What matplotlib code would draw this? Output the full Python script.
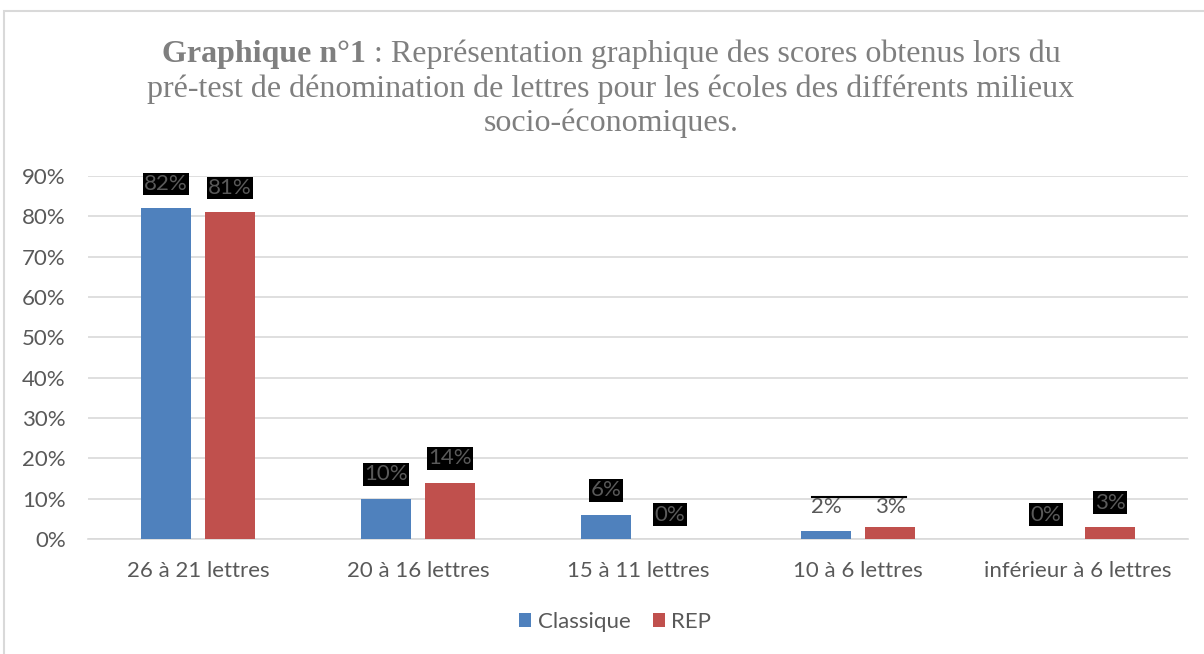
import matplotlib
matplotlib.use('Agg')
import matplotlib.pyplot as plt
from matplotlib.patches import Rectangle
import numpy as np

categories = ['26 à 21 lettres', '20 à 16 lettres', '15 à 11 lettres',
              '10 à 6 lettres', 'inférieur à 6 lettres']
classique = [0.82, 0.10, 0.06, 0.02, 0.00]
rep = [0.81, 0.14, 0.00, 0.03, 0.03]
yticks = [0, 0.1, 0.2, 0.3, 0.4, 0.5, 0.6, 0.7, 0.8, 0.9]

BLUE = '#4f81bd'
RED = '#c0504d'
GREY = '#595959'
FONT = 'Lato'

fig = plt.figure(figsize=(12.04, 6.54), dpi=100)
fig.patch.set_facecolor('white')

# chart border
fig.patches.append(Rectangle((4 / 1204, -0.05), 1.2, 1 - 11 / 654 + 0.05,
                             transform=fig.transFigure, fill=False,
                             edgecolor='#d9d9d9', linewidth=1.5))

ax = fig.add_axes([88 / 1204, 1 - 539 / 654, 1100 / 1204, (539 - 176) / 654])
x = np.arange(len(categories))
off = 0.145
w = 0.227
ax.bar(x - off, classique, w, color=BLUE, label='Classique', zorder=3)
ax.bar(x + off, rep, w, color=RED, label='REP', zorder=3)

ax.set_xlim(-0.5, len(categories) - 0.5)
ax.set_ylim(0, 0.9)
ax.set_yticks(yticks)
ax.set_yticklabels([f'{int(round(t * 100))}%' for t in yticks])
ax.set_xticks(x)
ax.set_xticklabels(categories)
ax.tick_params(length=0, labelsize=16, labelcolor=GREY)
ax.tick_params(axis='x', pad=16)
ax.tick_params(axis='y', pad=16)
for lab in ax.get_xticklabels() + ax.get_yticklabels():
    lab.set_fontfamily(FONT)
ax.yaxis.grid(True, color='#d9d9d9', linewidth=1.2, zorder=0)
for s in ['top', 'right', 'left']:
    ax.spines[s].set_visible(False)
ax.spines['bottom'].set_color('#d9d9d9')
ax.spines['bottom'].set_linewidth(1.2)

# data labels (black boxes, except the 10 à 6 group)
for i in range(len(categories)):
    for vals, sgn in ((classique, -1), (rep, 1)):
        v = vals[i]
        boxed = i != 3
        y = v if boxed else max(classique[i], rep[i])
        ax.annotate(f'{int(round(v * 100))}%', (x[i] + sgn * off, y),
                    xytext=(0, 17.5 if boxed else 14), textcoords='offset points',
                    ha='center', va='center', fontsize=16, color=GREY,
                    family=FONT, zorder=5,
                    bbox=dict(boxstyle='square,pad=0.06', facecolor='black',
                              edgecolor='none') if boxed else None)
# thin line over the 10 à 6 labels
ax.plot([3 - 0.21, 3 + 0.22], [0.104, 0.104], color='black', lw=1.5,
        zorder=5, clip_on=False)

# title
cx = 611 / 1204
tkw = dict(color='#7f7f7f', fontsize=23, family='Liberation Serif',
           va='baseline')
bold = fig.text(0, 0, 'Graphique n°1', fontweight='bold', **tkw)
rest = fig.text(0, 0, ' : Représentation graphique des scores obtenus lors du', **tkw)
fig.canvas.draw()
r = fig.canvas.get_renderer()
wb = bold.get_window_extent(r).width
wr = rest.get_window_extent(r).width
x0 = cx * 1204 - (wb + wr) / 2
bold.set_position((x0 / 1204, 1 - 62 / 654))
rest.set_position(((x0 + wb) / 1204, 1 - 62 / 654))
fig.text(cx, 1 - 97 / 654,
         'pré-test de dénomination de lettres pour les écoles des différents milieux',
         ha='center', **tkw)
fig.text(cx, 1 - 131 / 654, 'socio-économiques.', ha='center', **tkw)

leg = fig.legend(loc='center', bbox_to_anchor=(615 / 1204, 1 - 622 / 654),
                 ncol=2, frameon=False, prop={'family': FONT, 'size': 16},
                 handlelength=0.55, handleheight=0.55, handletextpad=0.3,
                 columnspacing=1.0)
for t in leg.get_texts():
    t.set_color(GREY)

fig.savefig('out.png', dpi=100, facecolor='white')
